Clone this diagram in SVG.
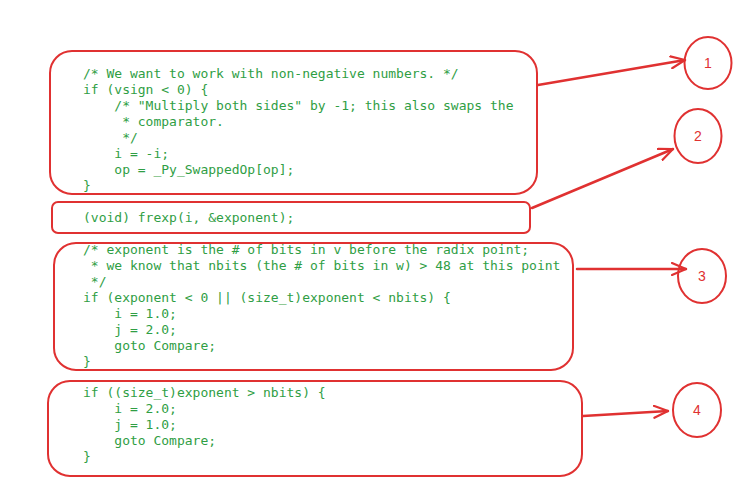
<svg xmlns="http://www.w3.org/2000/svg" width="746" height="484" viewBox="0 0 746 484">
<defs>
<style>
.box{fill:none;stroke:#e03131;stroke-width:2;}
.code{font-family:"DejaVu Sans Mono","Liberation Mono",monospace;font-size:13px;fill:#2f9e44;white-space:pre;}
.num{font-family:"Liberation Sans","DejaVu Sans",sans-serif;font-size:14px;fill:#e03131;text-anchor:middle;}
.conn{fill:none;stroke:#e03131;stroke-width:2.5;stroke-linecap:round;}
</style>
<marker id="ah" viewBox="0 0 16 14" refX="15" refY="7" markerWidth="16" markerHeight="14" markerUnits="userSpaceOnUse" orient="auto">
<path d="M1,1 L15,7 L1,13" fill="none" stroke="#e03131" stroke-width="2.2" stroke-linecap="round" stroke-linejoin="round"/>
</marker>
</defs>
<rect width="746" height="484" fill="#ffffff"/>

<g id="block1">
<rect class="box" x="50" y="51" width="487" height="143" rx="22"/>
<text class="code" xml:space="preserve"><tspan x="83" y="78">/* We want to work with non-negative numbers. */</tspan><tspan x="83" y="94">if (vsign &lt; 0) {</tspan><tspan x="83" y="110">    /* "Multiply both sides" by -1; this also swaps the</tspan><tspan x="83" y="126">     * comparator.</tspan><tspan x="83" y="142">     */</tspan><tspan x="83" y="158">    i = -i;</tspan><tspan x="83" y="174">    op = _Py_SwappedOp[op];</tspan><tspan x="83" y="190">}</tspan></text>
</g>

<g id="block2">
<rect class="box" x="52" y="202" width="478" height="31" rx="6"/>
<text class="code" xml:space="preserve"><tspan x="83" y="221.5">(void) frexp(i, &amp;exponent);</tspan></text>
</g>

<g id="block3">
<rect class="box" x="54" y="243" width="519" height="127" rx="22"/>
<text class="code" xml:space="preserve"><tspan x="83" y="253.5">/* exponent is the # of bits in v before the radix point;</tspan><tspan x="83" y="269.5"> * we know that nbits (the # of bits in w) &gt; 48 at this point</tspan><tspan x="83" y="285.5"> */</tspan><tspan x="83" y="301.5">if (exponent &lt; 0 || (size_t)exponent &lt; nbits) {</tspan><tspan x="83" y="317.5">    i = 1.0;</tspan><tspan x="83" y="333.5">    j = 2.0;</tspan><tspan x="83" y="349.5">    goto Compare;</tspan><tspan x="83" y="365.5">}</tspan></text>
</g>

<g id="block4">
<rect class="box" x="48" y="381" width="534" height="95" rx="22"/>
<text class="code" xml:space="preserve"><tspan x="83" y="397">if ((size_t)exponent &gt; nbits) {</tspan><tspan x="83" y="413">    i = 2.0;</tspan><tspan x="83" y="429">    j = 1.0;</tspan><tspan x="83" y="445">    goto Compare;</tspan><tspan x="83" y="461">}</tspan></text>
</g>

<g id="c1">
<ellipse class="box" cx="708" cy="63" rx="23.5" ry="26"/>
<text class="num" x="708" y="68">1</text>
</g>
<g id="c2">
<ellipse class="box" cx="698" cy="136" rx="23.5" ry="27"/>
<text class="num" x="698" y="141">2</text>
</g>
<g id="c3">
<ellipse class="box" cx="702" cy="276" rx="24" ry="27"/>
<text class="num" x="702" y="281">3</text>
</g>
<g id="c4">
<ellipse class="box" cx="697" cy="410" rx="24" ry="27"/>
<text class="num" x="697" y="415">4</text>
</g>

<g id="connectors">
<line class="conn" x1="538" y1="85" x2="685" y2="60" marker-end="url(#ah)"/>
<line class="conn" x1="532" y1="208" x2="673" y2="149" marker-end="url(#ah)"/>
<line class="conn" x1="577" y1="269" x2="686" y2="269" marker-end="url(#ah)"/>
<line class="conn" x1="583" y1="416" x2="668" y2="411" marker-end="url(#ah)"/>
</g>
</svg>
